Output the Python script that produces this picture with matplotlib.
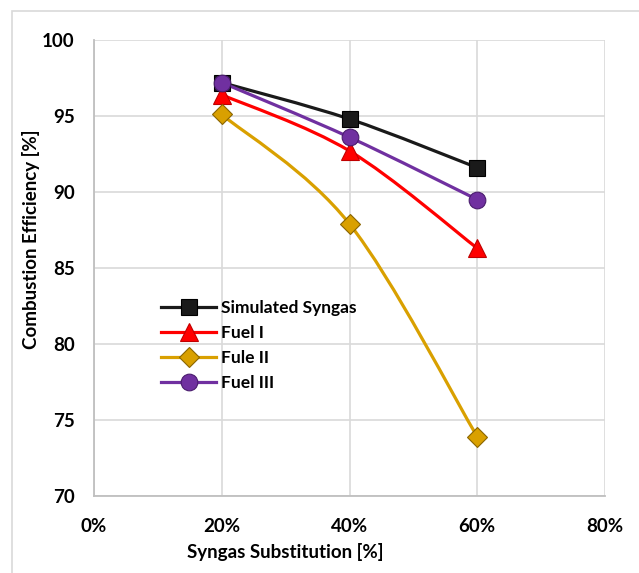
import matplotlib
matplotlib.use("Agg")
import matplotlib.pyplot as plt
import numpy as np
from matplotlib.path import Path
from matplotlib.patches import PathPatch, Rectangle
from matplotlib.lines import Line2D
from matplotlib.ticker import FuncFormatter

# data
substitution = [20, 40, 60]
simulated_syngas = [97.2, 94.8, 91.6]
fuel_1 = [96.4, 92.7, 86.3]
fuel_2 = [95.1, 87.9, 73.9]
fuel_3 = [97.2, 93.6, 89.5]

series_names = ["Simulated Syngas", "Fuel I", "Fule II", "Fuel III"]


def smooth_path(x, y):
    # Excel-like smoothed line: Catmull-Rom converted to cubic bezier
    pts = np.column_stack([x, y]).astype(float)
    n = len(pts)
    verts = [pts[0]]
    codes = [Path.MOVETO]
    for i in range(n - 1):
        p0 = pts[max(i - 1, 0)]
        p1 = pts[i]
        p2 = pts[i + 1]
        p3 = pts[min(i + 2, n - 1)]
        c1 = p1 + (p2 - p0) / 6.0
        c2 = p2 - (p3 - p1) / 6.0
        verts += [c1, c2, p2]
        codes += [Path.CURVE4] * 3
    return Path(verts, codes)


plt.rcParams["font.family"] = ["Lato", "DejaVu Sans"]

fig = plt.figure(figsize=(6.39, 5.73), dpi=100)
ax = fig.add_axes([94 / 639, 1 - 496 / 573, 511 / 639, 456 / 573])

styles = [
    ("#1a1a1a", "s", 12, "#000000"),
    ("#ff0000", "^", 13, "#c00000"),
    ("#d9a000", "D", 10, "#8a6500"),
    ("#7030a0", "o", 12, "#4a1d6e"),
]
data = [simulated_syngas, fuel_1, fuel_2, fuel_3]

handles = []
for vals, name, (col, mk, ms, edge) in zip(data, series_names, styles):
    patch = PathPatch(smooth_path(substitution, vals), fill=False,
                      edgecolor=col, lw=2.3, zorder=3, capstyle="round")
    ax.add_patch(patch)
    ax.plot(substitution, vals, linestyle="none", marker=mk, markersize=ms,
            markerfacecolor=col, markeredgecolor=edge, markeredgewidth=0.8,
            zorder=4)
    handles.append(Line2D([], [], color=col, lw=2.3, marker=mk, markersize=ms,
                          markerfacecolor=col, markeredgecolor=edge,
                          markeredgewidth=0.8, label=name))

ax.set_xlim(0, 80)
ax.set_ylim(70, 100)
ax.set_xticks([0, 20, 40, 60, 80])
ax.set_yticks([70, 75, 80, 85, 90, 95, 100])
ax.xaxis.set_major_formatter(FuncFormatter(lambda v, p: f"{v:.0f}%"))
ax.grid(True, color="#d9d9d9", lw=1.2, zorder=0)
ax.set_axisbelow(True)
for side in ["top", "right"]:
    ax.spines[side].set_visible(False)
for side in ["left", "bottom"]:
    ax.spines[side].set_color("#bfbfbf")
    ax.spines[side].set_linewidth(1.3)
ax.tick_params(length=0, labelsize=13.5)
ax.tick_params(axis="y", pad=14)
ax.tick_params(axis="x", pad=16)
for lab in ax.get_xticklabels() + ax.get_yticklabels():
    lab.set_fontweight("bold")

ax.set_xlabel("Syngas Substitution [%]", fontsize=13.5, fontweight="bold")
ax.set_ylabel("Combustion Efficiency [%]", fontsize=13.5, fontweight="bold")
ax.xaxis.set_label_coords(0.374, -0.104)
ax.yaxis.set_label_coords(-0.105, 0.564)

leg = ax.legend(handles=handles, loc="upper left", bbox_to_anchor=(0.1, 0.465),
                frameon=False, handlelength=3.2, handletextpad=0.25,
                labelspacing=0.52, prop={"weight": "bold", "size": 12.5})

# outer chart frame
fig.add_artist(Rectangle((12 / 639, -0.1), 1.2, 1 - 11 / 573 + 0.1,
                         transform=fig.transFigure, fill=False,
                         edgecolor="#d9d9d9", lw=1.2))

fig.savefig("out.png", dpi=100)
